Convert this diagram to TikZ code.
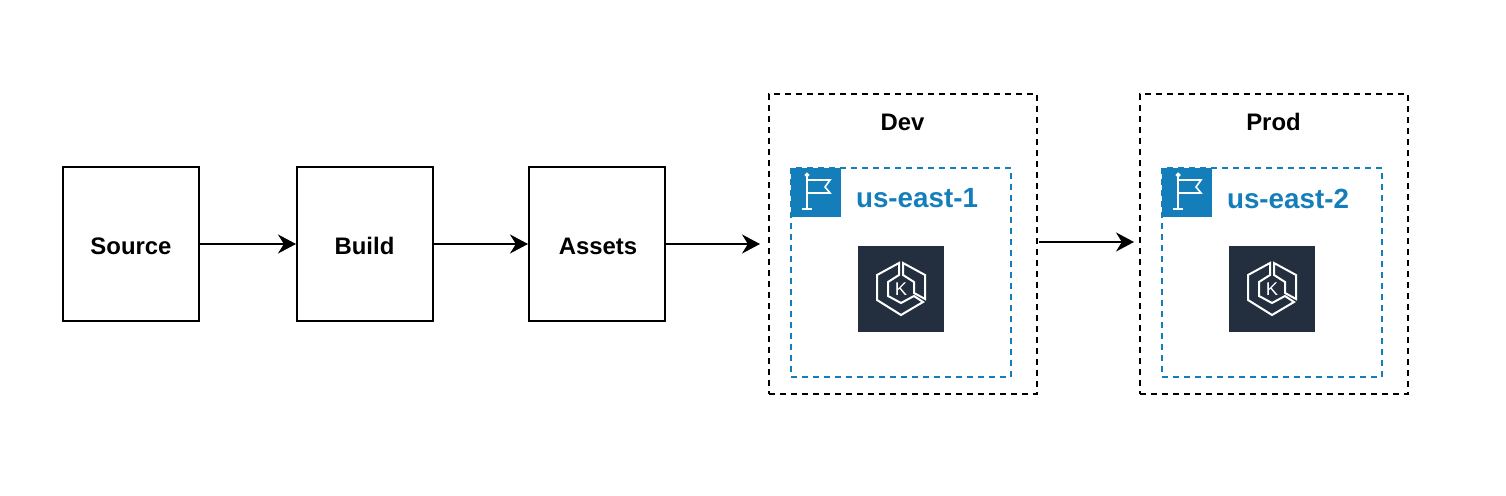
\documentclass[tikz,border=0pt]{standalone}
\usepackage{fontspec}
\setmainfont{Liberation Sans}
\usetikzlibrary{arrows.meta}
\definecolor{regionblue}{HTML}{147EBA}
\definecolor{eksdark}{HTML}{232F3E}
\tikzset{
  stagebox/.style={draw, line width=.04cm, minimum width=2.72cm, minimum height=3.08cm},
  stagelabel/.style={font=\fontsize{13.6}{16}\selectfont\bfseries},
  envbox/.style={draw, dash pattern=on .12cm off .1cm, line width=.04cm,
    minimum width=5.36cm, minimum height=6cm},
  regionbox/.style={draw=regionblue, dash pattern=on .12cm off .1cm, line width=.04cm,
    minimum width=4.4cm, minimum height=4.18cm},
  regionlabel/.style={text=regionblue, font=\fontsize{15.8}{18}\selectfont\bfseries},
  flow/.style={line width=.04cm, -{Stealth[length=.36cm,width=.38cm]}},
  pics/flagicon/.style={code={
    \fill[regionblue] (0,0) rectangle (50,49);
    \begin{scope}[draw=white, line width=.032cm]
    \draw (16,9) -- (16,41);
    \draw (11,41) -- (21,41);
    \draw (16,7) circle (1.6);
    \draw (16,12) -- (39,12) -- (34,19) -- (39,25) -- (16,25);
    \end{scope}
  }},
  pics/eksicon/.style={code={
    \fill[eksdark] (-43,-43) rectangle (43,43);
    \begin{scope}[draw=white, line width=.04cm, line join=miter]
    \draw (-2,-26) -- (-24,-14) -- (-24,11) -- (0,26) -- (22,13) -- (13,7) -- (0,14) -- (-13,7) -- (-13,-7) -- (-2,-14) -- cycle;
    \draw (2,-26) -- (24,-14) -- (24,10) -- (13,4) -- (13,-7) -- (2,-14) -- cycle;
    \end{scope}
    \node[text=white, inner sep=0pt, font=\fontsize{10.5}{11}\selectfont] (kletter) at (0,0) {K};
  }},
}
\begin{document}
\begin{tikzpicture}[x=.02cm, y=-.02cm]
\useasboundingbox (0,0) rectangle (1506,496);

% pipeline stages
\node[stagebox] (source) at (131,244) {};
\node[stagebox] (build) at (365,244) {};
\node[stagebox] (assets) at (597,244) {};
\node[stagelabel] (source label) at (131,246) {Source};
\node[stagelabel] (build label) at (364.5,246) {Build};
\node[stagelabel] (assets label) at (598,246) {Assets};

% environments
\foreach \name/\label/\x/\region in {dev/Dev/903/us-east-1, prod/Prod/1274/us-east-2}{
  \node[envbox] (\name) at (\x,244) {};
  \node[stagelabel] (\name label) at (\x-0.5,122) {\label};
  \node[regionbox] (\name region) at (\x-2,272.5) {};
  \pic at (\x-112,168) {flagicon};
  \node[regionlabel] (\name regionlabel) at (\x+14,198.5) {\region};
  \pic at (\x-2,289) {eksicon};
}

% arrows between stages
\draw[flow] (source) -- (build);
\draw[flow] (build) -- (assets);
\draw[flow, shorten >=.16cm] (assets) -- (dev);
\draw[flow, shorten <=.02cm, shorten >=.1cm] ([yshift=.04cm]dev.east) -- ([yshift=.04cm]prod.west);
\end{tikzpicture}
\end{document}
